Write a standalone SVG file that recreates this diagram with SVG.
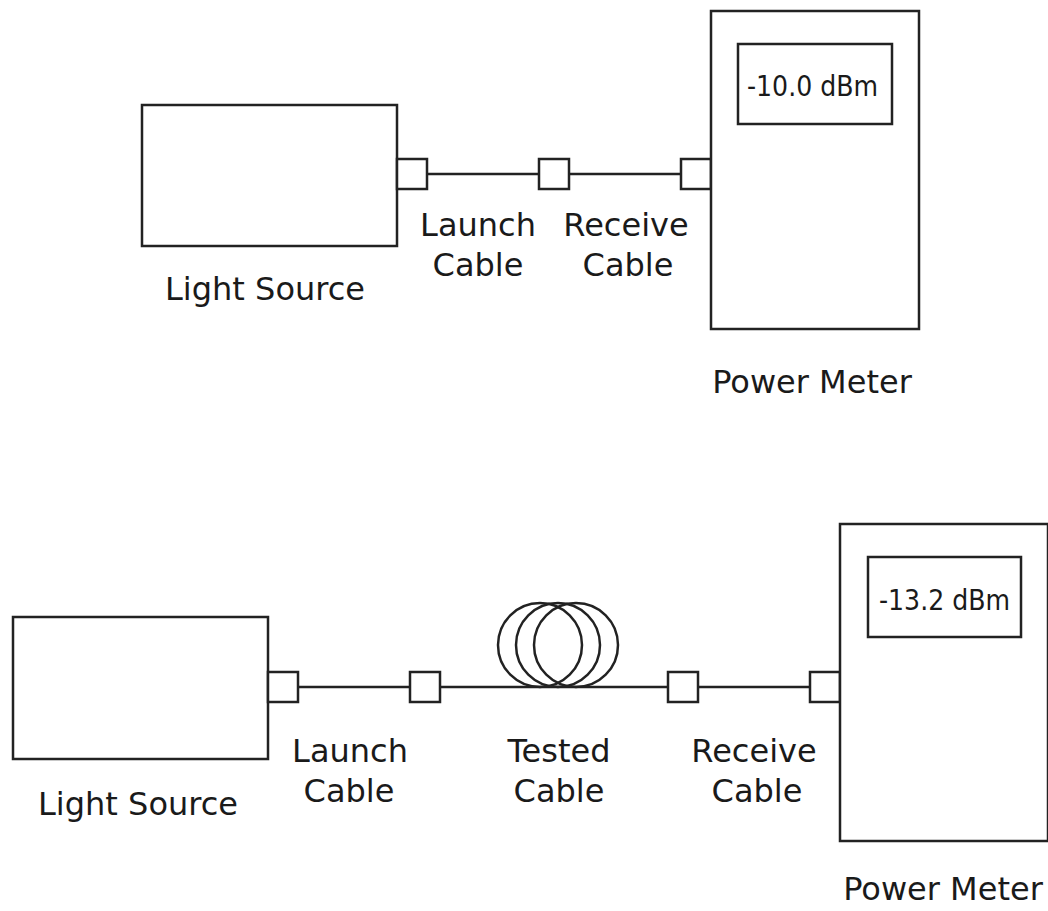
<svg xmlns="http://www.w3.org/2000/svg" width="1048" height="911" viewBox="0 0 1048 911">
<style>
.b{fill:#fff;stroke:#222;stroke-width:2.5}
.c{fill:none;stroke:#222;stroke-width:2.5}
.t{font-family:"DejaVu Sans",sans-serif;font-size:32px;fill:#1a1a1a;text-anchor:middle}
.d{font-family:"DejaVu Sans Condensed","DejaVu Sans",sans-serif;font-size:28px;fill:#1a1a1a}
</style>
<rect width="1048" height="911" fill="#fff"/>
<g id="connectors">
<line class="c" x1="427" y1="174" x2="539" y2="174"/>
<line class="c" x1="569" y1="174" x2="681" y2="174"/>
<line class="c" x1="298" y1="687" x2="410" y2="687"/>
<line class="c" x1="440" y1="687" x2="668" y2="687"/>
<line class="c" x1="698" y1="687" x2="810" y2="687"/>
</g>
<g id="top-light-source">
<rect class="b" x="142" y="105" width="255" height="141"/>
<text class="t" x="265" y="300">Light Source</text>
</g>
<g id="top-launch-cable">
<rect class="b" x="397" y="159" width="30" height="30"/>
<rect class="b" x="539" y="159" width="30" height="30"/>
<text class="t" x="478" y="236">Launch</text>
<text class="t" x="478" y="276">Cable</text>
</g>
<g id="top-receive-cable">
<rect class="b" x="681" y="159" width="30" height="30"/>
<text class="t" x="626" y="236">Receive</text>
<text class="t" x="628" y="276">Cable</text>
</g>
<g id="top-power-meter">
<rect class="b" x="711" y="11" width="208" height="318"/>
<rect class="b" x="738" y="44" width="154" height="80"/>
<text class="d" x="747" y="96">-10.0 dBm</text>
<text class="t" x="812" y="393">Power Meter</text>
</g>
<g id="bottom-light-source">
<rect class="b" x="13" y="617" width="255" height="142"/>
<text class="t" x="138" y="815">Light Source</text>
</g>
<g id="bottom-launch-cable">
<rect class="b" x="268" y="672" width="30" height="30"/>
<rect class="b" x="410" y="672" width="30" height="30"/>
<text class="t" x="350" y="762">Launch</text>
<text class="t" x="349" y="802">Cable</text>
</g>
<g id="bottom-tested-cable">
<circle class="c" cx="540" cy="645" r="42"/>
<circle class="c" cx="558" cy="645" r="42"/>
<circle class="c" cx="576" cy="645" r="42"/>
<text class="t" x="559" y="762">Tested</text>
<text class="t" x="559" y="802">Cable</text>
</g>
<g id="bottom-receive-cable">
<rect class="b" x="668" y="672" width="30" height="30"/>
<rect class="b" x="810" y="672" width="30" height="30"/>
<text class="t" x="754" y="762">Receive</text>
<text class="t" x="757" y="802">Cable</text>
</g>
<g id="bottom-power-meter">
<rect class="b" x="840" y="524" width="208" height="317"/>
<rect class="b" x="868" y="557" width="153" height="80"/>
<text class="d" x="879" y="610">-13.2 dBm</text>
<text class="t" x="943" y="900">Power Meter</text>
</g>
</svg>
